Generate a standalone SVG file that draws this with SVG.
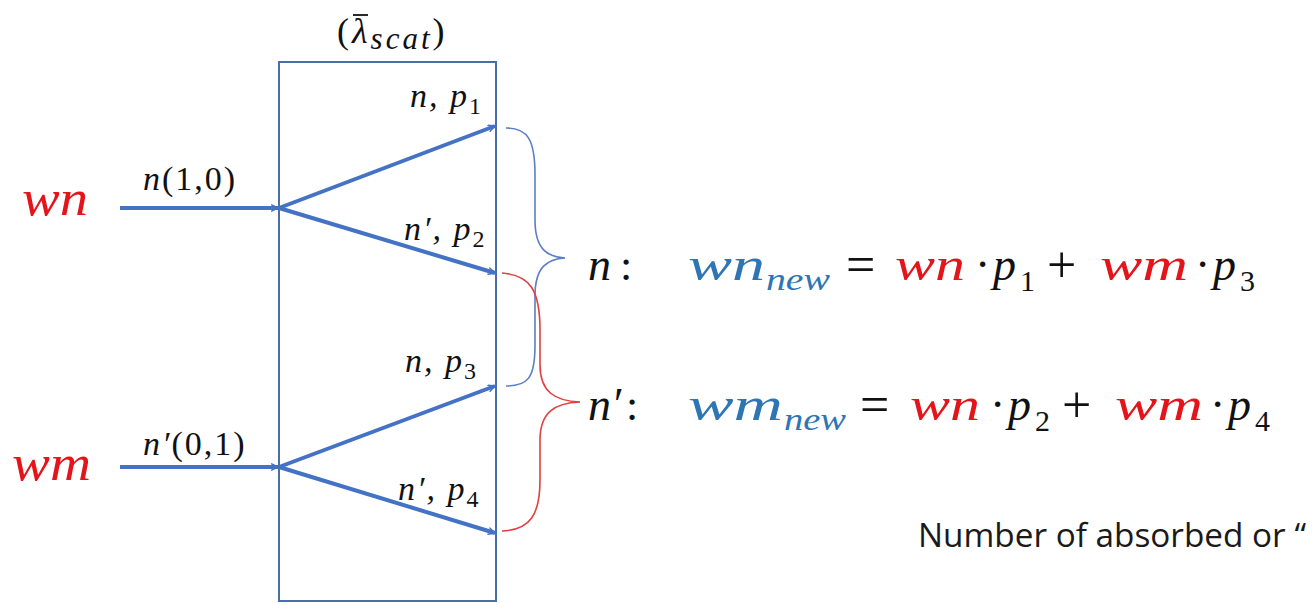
<svg xmlns="http://www.w3.org/2000/svg" width="1312" height="603" viewBox="0 0 1312 603">
<style>
.m{font-family:"Liberation Serif","DejaVu Serif",serif;font-style:italic;fill:#111}
.u{font-family:"Liberation Serif","DejaVu Serif",serif;font-style:normal;fill:#111}
.red{fill:#E3151B}
.blu{fill:#2E75B6}
.lbl{font-size:34px;letter-spacing:2px}
.conn{stroke:#4472C4;stroke-width:4;fill:none;marker-end:url(#ah)}
.sans{font-family:"Open Sans","Liberation Sans",sans-serif;fill:#1a1a1a}
</style>
<defs>
<marker id="ah" markerWidth="8" markerHeight="8" viewBox="0 0 10 10" refX="9" refY="5" orient="auto" markerUnits="userSpaceOnUse">
<polyline points="1,1 9,5 1,9" fill="none" stroke="#4472C4" stroke-width="1.8" stroke-linecap="round" stroke-linejoin="round"/>
</marker>
</defs>
<rect width="1312" height="603" fill="#fff"/>

<g id="box">
<rect x="279" y="62" width="217" height="539" fill="none" stroke="#4A6FA5" stroke-width="2"/>
<text class="u" x="337" y="43" font-size="36" letter-spacing="3">(<tspan font-style="italic">λ</tspan><tspan font-style="italic" font-size="31" dy="6">scat</tspan><tspan dy="-6">)</tspan></text>
<line x1="353" y1="15" x2="368" y2="15" stroke="#111" stroke-width="1.8"/>
</g>

<g id="input-wn">
<text class="m red" x="22" y="215" font-size="50" textLength="66" lengthAdjust="spacingAndGlyphs">wn</text>
<text class="m lbl" x="143" y="190">n<tspan font-style="normal">(1,0)</tspan></text>
</g>

<g id="input-wm">
<text class="m red" x="12" y="480" font-size="50" textLength="79" lengthAdjust="spacingAndGlyphs">wm</text>
<text class="m lbl" x="143" y="455">n′<tspan font-style="normal">(0,1)</tspan></text>
</g>

<g id="labels">
<text class="m lbl" x="410" y="107">n, p<tspan font-style="normal" font-size="24" dy="7">1</tspan></text>
<text class="m lbl" x="404" y="240">n′, p<tspan font-style="normal" font-size="24" dy="7">2</tspan></text>
<text class="m lbl" x="405" y="372">n, p<tspan font-style="normal" font-size="24" dy="7">3</tspan></text>
<text class="m lbl" x="398" y="500">n′, p<tspan font-style="normal" font-size="24" dy="7">4</tspan></text>
</g>

<g id="connectors">
<line class="conn" x1="120" y1="208" x2="278" y2="208"/>
<line class="conn" x1="279" y1="208" x2="495" y2="126"/>
<line class="conn" x1="279" y1="208" x2="495" y2="273"/>
<line class="conn" x1="120" y1="467" x2="278" y2="467"/>
<line class="conn" x1="279" y1="467" x2="495" y2="386"/>
<line class="conn" x1="279" y1="467" x2="495" y2="533"/>
</g>

<g id="brace-blue">
<path d="M506,128 C528,128 535,140 535,175 L535,220 C535,250 548,257 565,258 C548,259 535,266 535,296 L535,345 C535,378 528,386 506,386" fill="none" stroke="#5B7FC6" stroke-width="1.6"/>
</g>
<g id="brace-red">
<path d="M502,273 C530,275 540,290 540,330 L540,365 C540,392 555,401 580,402 C555,403 540,412 540,440 L540,480 C540,515 530,530 502,531" fill="none" stroke="#E04040" stroke-width="1.6"/>
</g>

<g id="eq-n">
<text class="m" x="588" y="280" font-size="46">n</text>
<text class="u" x="620" y="280" font-size="44">:</text>
<text class="m blu" x="688" y="280" font-size="46" textLength="77" lengthAdjust="spacingAndGlyphs">wn</text>
<text class="m blu" x="766" y="290" font-size="32" textLength="64" lengthAdjust="spacingAndGlyphs">new</text>
<text class="u" x="846" y="282" font-size="52">=</text>
<text class="m red" x="895" y="280" font-size="46" textLength="70" lengthAdjust="spacingAndGlyphs">wn</text>
<text class="u" x="975" y="280" font-size="46">·</text>
<text class="m" x="993" y="280" font-size="46">p</text>
<text class="u" x="1020" y="291" font-size="30">1</text>
<text class="u" x="1047" y="282" font-size="52">+</text>
<text class="m red" x="1100" y="280" font-size="46" textLength="88" lengthAdjust="spacingAndGlyphs">wm</text>
<text class="u" x="1195" y="280" font-size="46">·</text>
<text class="m" x="1213" y="280" font-size="46">p</text>
<text class="u" x="1240" y="291" font-size="30">3</text>
</g>

<g id="eq-nprime">
<text class="m" x="588" y="420" font-size="46">n′</text>
<text class="u" x="626" y="420" font-size="44">:</text>
<text class="m blu" x="688" y="420" font-size="46" textLength="95" lengthAdjust="spacingAndGlyphs">wm</text>
<text class="m blu" x="784" y="430" font-size="32" textLength="62" lengthAdjust="spacingAndGlyphs">new</text>
<text class="u" x="860" y="422" font-size="52">=</text>
<text class="m red" x="910" y="420" font-size="46" textLength="70" lengthAdjust="spacingAndGlyphs">wn</text>
<text class="u" x="990" y="420" font-size="46">·</text>
<text class="m" x="1008" y="420" font-size="46">p</text>
<text class="u" x="1035" y="431" font-size="30">2</text>
<text class="u" x="1062" y="422" font-size="52">+</text>
<text class="m red" x="1115" y="420" font-size="46" textLength="88" lengthAdjust="spacingAndGlyphs">wm</text>
<text class="u" x="1210" y="420" font-size="46">·</text>
<text class="m" x="1228" y="420" font-size="46">p</text>
<text class="u" x="1255" y="431" font-size="30">4</text>
</g>

<g id="note">
<text class="sans" x="918" y="547" font-size="32" textLength="388" lengthAdjust="spacingAndGlyphs">Number of absorbed or “</text>
</g>
</svg>
